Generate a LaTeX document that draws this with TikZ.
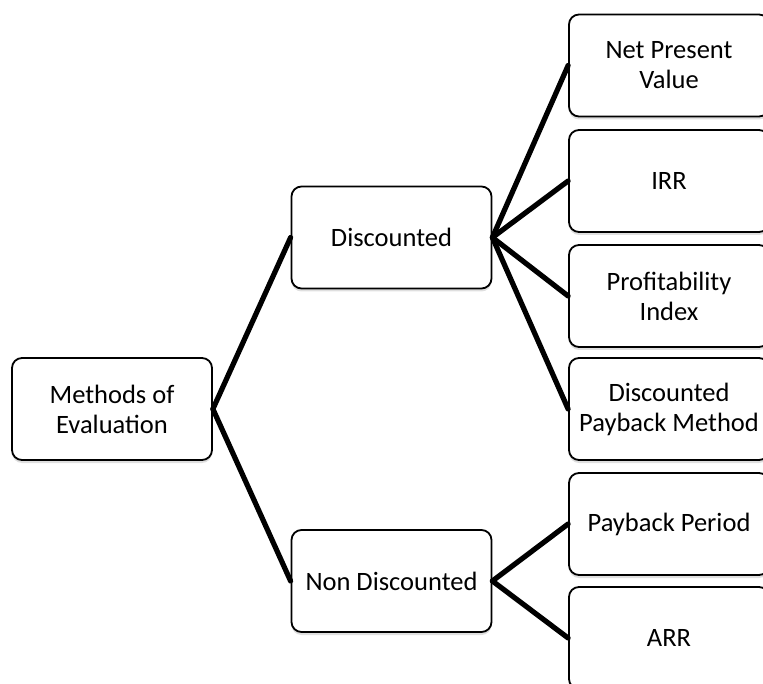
\documentclass[tikz,border=0pt]{standalone}
\usepackage{fontspec}
\setmainfont{Carlito}
\usetikzlibrary{shadows}

\begin{document}
\begin{tikzpicture}[x=1pt, y=-1pt,
  evalbox/.style={draw=black, line width=1.8pt, rounded corners=10pt, fill=white,
    minimum width=200pt, minimum height=102pt, align=center, inner sep=0pt,
    font=\fontsize{26.5}{30}\selectfont,
    drop shadow={opacity=0.25, shadow xshift=0pt, shadow yshift=-3pt}},
  branch/.style={line width=5.2pt, line cap=round}]
% Canvas of the picture, right column runs off the edge
\useasboundingbox (0,0) rectangle (763,684);
\clip (0,0) rectangle (763,684);
\def\colx{669}
% Root and the two groups
\node[evalbox] (meth) at (112,409) {Methods of\\Evaluation};
\node[evalbox] (disc) at (391.5,237.5) {Discounted};
\node[evalbox] (nond) at (391.5,581) {Non Discounted};
% Methods in each group
\node[evalbox] (npv) at (\colx,65.5) {Net Present\\Value};
\node[evalbox] (irr) at (\colx,181) {IRR};
\node[evalbox] (pidx) at (\colx,296) {Profitability\\Index};
\node[evalbox] (dpbm) at (\colx,409) {Discounted\\Payback Method};
\node[evalbox] (pbp) at (\colx,524) {Payback Period};
\node[evalbox] (arr) at (\colx,638) {ARR};
% Branches
\draw[branch] (meth.east) -- (disc.west);
\draw[branch] (meth.east) -- (nond.west);
\foreach \leaf in {npv,irr,pidx,dpbm}
  \draw[branch] (disc.east) -- (\leaf.west);
\foreach \leaf in {pbp,arr}
  \draw[branch] (nond.east) -- (\leaf.west);
\end{tikzpicture}
\end{document}
